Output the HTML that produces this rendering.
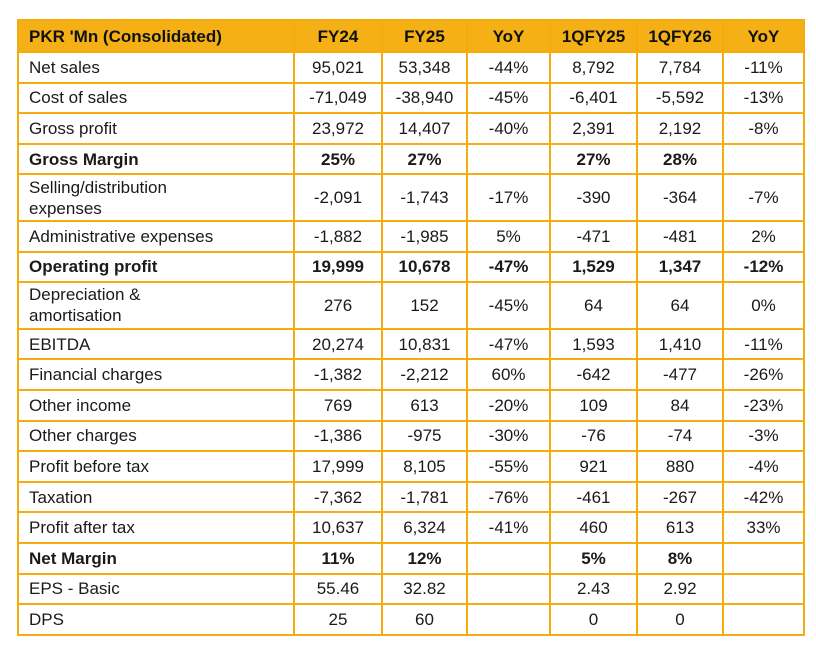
<!DOCTYPE html>
<html><head><meta charset="utf-8"><style>
body{margin:0;background:#fff;width:816px;height:652px;position:relative;font-family:"Liberation Sans",sans-serif;}
table{position:absolute;left:17px;top:19px;border-collapse:collapse;table-layout:fixed;width:786px;}
td{border:2px solid #F5AC10;padding:0;font-size:17px;color:#1a1a1a;text-align:center;height:30.6px;line-height:19px;box-sizing:border-box;}
td:first-child{text-align:left;padding-left:10px;}
tr.h td{background:#F5B016;font-weight:bold;height:32px;color:#111;}
tr.d td{height:46.6px;line-height:21px;}
tr.b td{font-weight:bold;}
</style></head><body>
<table>
<colgroup><col style="width:276px"><col style="width:88px"><col style="width:85px"><col style="width:83px"><col style="width:87px"><col style="width:86px"><col style="width:81px"></colgroup>
<tr class="h"><td>PKR 'Mn (Consolidated)</td><td>FY24</td><td>FY25</td><td>YoY</td><td>1QFY25</td><td>1QFY26</td><td>YoY</td></tr>
<tr><td>Net sales</td><td>95,021</td><td>53,348</td><td>-44%</td><td>8,792</td><td>7,784</td><td>-11%</td></tr>
<tr><td>Cost of sales</td><td>-71,049</td><td>-38,940</td><td>-45%</td><td>-6,401</td><td>-5,592</td><td>-13%</td></tr>
<tr><td>Gross profit</td><td>23,972</td><td>14,407</td><td>-40%</td><td>2,391</td><td>2,192</td><td>-8%</td></tr>
<tr class="b"><td>Gross Margin</td><td>25%</td><td>27%</td><td></td><td>27%</td><td>28%</td><td></td></tr>
<tr class="d"><td>Selling/distribution<br>expenses</td><td>-2,091</td><td>-1,743</td><td>-17%</td><td>-390</td><td>-364</td><td>-7%</td></tr>
<tr><td>Administrative expenses</td><td>-1,882</td><td>-1,985</td><td>5%</td><td>-471</td><td>-481</td><td>2%</td></tr>
<tr class="b"><td>Operating profit</td><td>19,999</td><td>10,678</td><td>-47%</td><td>1,529</td><td>1,347</td><td>-12%</td></tr>
<tr class="d"><td>Depreciation &amp;<br>amortisation</td><td>276</td><td>152</td><td>-45%</td><td>64</td><td>64</td><td>0%</td></tr>
<tr><td>EBITDA</td><td>20,274</td><td>10,831</td><td>-47%</td><td>1,593</td><td>1,410</td><td>-11%</td></tr>
<tr><td>Financial charges</td><td>-1,382</td><td>-2,212</td><td>60%</td><td>-642</td><td>-477</td><td>-26%</td></tr>
<tr><td>Other income</td><td>769</td><td>613</td><td>-20%</td><td>109</td><td>84</td><td>-23%</td></tr>
<tr><td>Other charges</td><td>-1,386</td><td>-975</td><td>-30%</td><td>-76</td><td>-74</td><td>-3%</td></tr>
<tr><td>Profit before tax</td><td>17,999</td><td>8,105</td><td>-55%</td><td>921</td><td>880</td><td>-4%</td></tr>
<tr><td>Taxation</td><td>-7,362</td><td>-1,781</td><td>-76%</td><td>-461</td><td>-267</td><td>-42%</td></tr>
<tr><td>Profit after tax</td><td>10,637</td><td>6,324</td><td>-41%</td><td>460</td><td>613</td><td>33%</td></tr>
<tr class="b"><td>Net Margin</td><td>11%</td><td>12%</td><td></td><td>5%</td><td>8%</td><td></td></tr>
<tr><td>EPS - Basic</td><td>55.46</td><td>32.82</td><td></td><td>2.43</td><td>2.92</td><td></td></tr>
<tr><td>DPS</td><td>25</td><td>60</td><td></td><td>0</td><td>0</td><td></td></tr>
</table>
</body></html>
